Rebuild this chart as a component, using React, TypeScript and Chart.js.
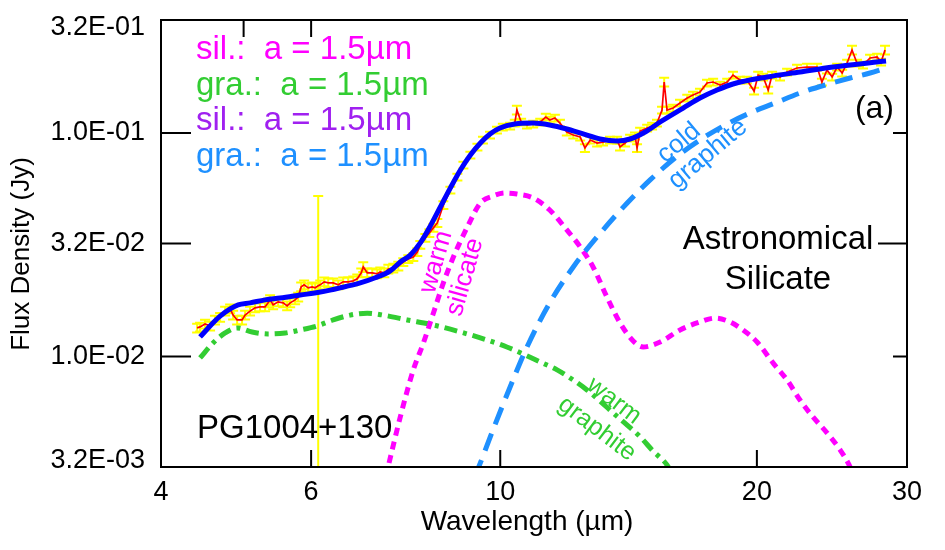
import { useEffect, useRef } from 'react';
import { Chart, registerables } from 'chart.js';

Chart.register(...registerables);

const FONT = '"Liberation Sans", Arial, Helvetica, sans-serif';

// Axis ranges and ticks
const xMin = 4;
const xMax = 30;
const yMin = 0.0032;
const yMax = 0.32;
const xTickValues = [4, 6, 10, 20, 30];
const xTickLabels = ['4', '6', '10', '20', '30'];
const yTickValues = [0.0032, 0.01, 0.032, 0.1, 0.32];
const yTickLabels = ['3.2E-03', '1.0E-02', '3.2E-02', '1.0E-01', '3.2E-01'];
const xTopMarks = [5, 6, 10, 20];
const xBottomMarks = [6, 10, 20];

// Observed spectrum (μm, Jy) with relative errors
const obsWavelength = [
  4.41, 4.445, 4.505, 4.567, 4.628, 4.692, 4.756, 4.821, 4.86, 4.913,
  4.979, 5.02, 5.088, 5.157, 5.227, 5.299, 5.342, 5.371, 5.415, 5.489,
  5.564, 5.624, 5.67, 5.746, 5.794, 5.841, 5.888, 5.953, 6.017, 6.066,
  6.116, 6.149, 6.216, 6.284, 6.369, 6.456, 6.543, 6.632, 6.723, 6.796,
  6.87, 6.907, 6.982, 7.077, 7.173, 7.232, 7.311, 7.391, 7.491, 7.593,
  7.696, 7.801, 7.907, 7.993, 8.058, 8.168, 8.257, 8.347, 8.437, 8.576,
  8.74, 8.907, 9.053, 9.225, 9.402, 9.544, 9.727, 9.912, 10.07, 10.27,
  10.4, 10.46, 10.58, 10.75, 10.93, 11.14, 11.31, 11.43, 11.59, 11.75,
  11.97, 12.18, 12.41, 12.57, 12.75, 12.99, 13.2, 13.45, 13.71, 13.82,
  14.01, 14.2, 14.39, 14.47, 14.59, 14.87, 15.07, 15.27, 15.48, 15.57,
  15.69, 15.95, 16.25, 16.57, 16.83, 17.15, 17.48, 17.77, 18.11, 18.46,
  18.75, 19.11, 19.47, 19.85, 20.07, 20.34, 20.62, 20.84, 21.29, 21.7,
  22.29, 22.9, 23.53, 23.84, 24.17, 24.51, 24.84, 25.18, 25.52, 25.86,
  26.21, 26.64, 27.15, 27.67, 27.97, 28.27,
];
const obsFlux = [
  0.01341, 0.01355, 0.01397, 0.01369, 0.01456, 0.01498, 0.01594, 0.01632, 0.0153, 0.01456,
  0.01456, 0.0153, 0.01594, 0.01649, 0.01666, 0.01666, 0.01736, 0.0179, 0.01701, 0.01754,
  0.01736, 0.01683, 0.01736, 0.0179, 0.01843, 0.02048, 0.0209, 0.02027, 0.02048, 0.02027,
  0.02069, 0.0209, 0.02155, 0.02133, 0.02133, 0.0209, 0.02155, 0.02155, 0.02178, 0.02225,
  0.02366, 0.02513, 0.02366, 0.02366, 0.02342, 0.0239, 0.02366, 0.02462, 0.02487, 0.02539,
  0.02645, 0.02726, 0.02783, 0.02929, 0.03154, 0.0339, 0.03568, 0.03758, 0.03956, 0.0476,
  0.0555, 0.06347, 0.07182, 0.07961, 0.08646, 0.0929, 0.09785, 0.103, 0.1063, 0.1074,
  0.1107, 0.1266, 0.1119, 0.1085, 0.1096, 0.1119, 0.1178, 0.1142, 0.1166, 0.1107,
  0.1009, 0.0979, 0.0959, 0.0856, 0.0929, 0.0901, 0.091, 0.0929, 0.0929, 0.0865,
  0.0901, 0.0949, 0.0969, 0.0856, 0.1019, 0.1052, 0.1074, 0.1107, 0.1266, 0.1689,
  0.1266, 0.1292, 0.1361, 0.1432, 0.1477, 0.1523, 0.1672, 0.1689, 0.1638, 0.1689,
  0.1815, 0.1724, 0.1724, 0.1539, 0.1815, 0.1779, 0.1555, 0.1815, 0.1779, 0.1872,
  0.1951, 0.1971, 0.1971, 0.1689, 0.1911, 0.1779, 0.1971, 0.1853, 0.2054, 0.2348,
  0.2054, 0.2012, 0.2163, 0.2185, 0.2075, 0.2348,
];
const obsErrRel = [
  0.045, 0.045, 0.045, 0.045, 0.045, 0.045, 0.045, 0.045, 0.045, 0.045,
  0.045, 0.045, 0.045, 0.045, 0.045, 0.045, 0.045, 0.05, 0.045, 0.045,
  0.045, 0.045, 0.045, 0.045, 0.045, 0.045, 0.045, 0.045, 0.045, 0.045,
  1.52, 0.045, 0.045, 0.045, 0.045, 0.045, 0.045, 0.045, 0.045, 0.045,
  0.045, 0.05, 0.045, 0.045, 0.045, 0.045, 0.045, 0.045, 0.045, 0.045,
  0.04, 0.04, 0.04, 0.04, 0.04, 0.04, 0.04, 0.04, 0.04, 0.04,
  0.035, 0.035, 0.035, 0.035, 0.035, 0.035, 0.035, 0.035, 0.035, 0.035,
  0.035, 0.045, 0.035, 0.035, 0.035, 0.035, 0.035, 0.035, 0.035, 0.035,
  0.035, 0.035, 0.035, 0.04, 0.035, 0.035, 0.035, 0.035, 0.035, 0.035,
  0.035, 0.035, 0.035, 0.04, 0.035, 0.035, 0.035, 0.035, 0.035, 0.045,
  0.035, 0.035, 0.035, 0.035, 0.035, 0.035, 0.035, 0.035, 0.035, 0.035,
  0.035, 0.035, 0.035, 0.035, 0.035, 0.035, 0.035, 0.035, 0.035, 0.035,
  0.035, 0.035, 0.035, 0.035, 0.035, 0.035, 0.035, 0.035, 0.035, 0.045,
  0.035, 0.035, 0.035, 0.035, 0.035, 0.045,
];

// Total model
const modelWavelength = [
  4.445, 4.567, 4.692, 4.821, 4.926, 5.088, 5.299, 5.518, 5.825, 6.149,
  6.491, 6.851, 7.134, 7.43, 7.634, 7.843, 8.058, 8.28, 8.506, 8.74,
  8.98, 9.225, 9.478, 9.727, 9.993, 10.4, 10.93, 11.43, 11.97, 12.51,
  13.09, 13.71, 14.2, 14.79, 15.4, 16.39, 17.15, 17.96, 18.75, 20.56,
  22.47, 24.57, 28.35,
];
const modelFlux = [
  0.01222, 0.01369, 0.01514, 0.01632, 0.01701, 0.01736, 0.0179, 0.01824, 0.01881, 0.0194,
  0.02027, 0.02133, 0.02248, 0.02415, 0.02645, 0.0284, 0.0322, 0.03836, 0.04663, 0.05675,
  0.0682, 0.07961, 0.0901, 0.0989, 0.1052, 0.1096, 0.1107, 0.1085, 0.1041, 0.0989,
  0.0939, 0.092, 0.0939, 0.1009, 0.1119, 0.1292, 0.1432, 0.1555, 0.1655, 0.1779,
  0.1872, 0.1971, 0.2096,
];

// Warm silicate component
const warmSilWavelength = [
  7.34, 7.391, 7.634, 7.907, 8.125, 8.347, 8.576, 8.811, 9.151, 9.478,
  9.806, 10.13, 10.46, 10.93, 11.43, 11.97, 12.41, 12.85, 13.34, 13.82,
  14.32, 14.71, 15.4, 16.25, 17.15, 17.86, 18.6, 19.26, 20.01, 20.89,
  21.7, 22.47, 23.27, 24.17, 25.05, 25.73, 26.0,
];
const warmSilFlux = [
  0.0029, 0.003235, 0.00536, 0.0087, 0.01148, 0.01561, 0.02133, 0.02783, 0.03797, 0.04858,
  0.05219, 0.05382, 0.05327, 0.05113, 0.0452, 0.0368, 0.0309, 0.02513, 0.01843, 0.01412,
  0.01172, 0.01102, 0.0116, 0.01313, 0.01426, 0.01483, 0.01426, 0.01313, 0.0116, 0.00935,
  0.00784, 0.00638, 0.00536, 0.00455, 0.00381, 0.0032, 0.0029,
];

// Warm graphite component
const warmGraWavelength = [
  4.445, 4.604, 4.756, 4.913, 5.116, 5.342, 5.594, 5.825, 6.099, 6.369,
  6.668, 6.982, 7.291, 7.78, 8.347, 8.98, 9.648, 10.18, 10.64, 11.14,
  11.66, 12.18, 12.64, 13.09, 13.56, 14.09, 14.59, 15.11, 15.69, 15.9,
];
const warmGraFlux = [
  0.00984, 0.01148, 0.01273, 0.01341, 0.01286, 0.0126, 0.01273, 0.01313, 0.01369, 0.01456,
  0.0153, 0.01561, 0.0153, 0.01456, 0.01383, 0.01286, 0.01184, 0.01102, 0.01025, 0.00944,
  0.0087, 0.00784, 0.00708, 0.00632, 0.00559, 0.00493, 0.00437, 0.00377, 0.00327, 0.003,
];

// Cold graphite component
const coldGraWavelength = [
  9.33, 9.428, 9.806, 10.27, 10.75, 11.43, 12.18, 12.99, 14.09, 14.99,
  16.03, 17.15, 18.36, 19.63, 21.01, 22.47, 24.04, 25.73, 27.15, 28.35,
];
const coldGraFlux = [
  0.0029, 0.00318, 0.00469, 0.0073, 0.01102, 0.01736, 0.02513, 0.03425, 0.04858, 0.0616,
  0.0772, 0.0929, 0.1085, 0.1228, 0.1361, 0.1508, 0.1638, 0.176, 0.1853, 0.1951,
];

const legendLines = [
  { text: 'sil.:  a = 1.5\u00b5m', color: '#ff00ff' },
  { text: 'gra.:  a = 1.5\u00b5m', color: '#32cd32' },
  { text: 'sil.:  a = 1.5\u00b5m', color: '#a020f0' },
  { text: 'gra.:  a = 1.5\u00b5m', color: '#1e90ff' },
];

const toPoints = (xs: number[], ys: number[]) => xs.map((x, i) => ({ x, y: ys[i] }));

function rotText(ctx: CanvasRenderingContext2D, text: string, x: number, y: number, deg: number, color: string, size: number) {
  ctx.save();
  ctx.translate(x, y);
  ctx.rotate((deg * Math.PI) / 180);
  ctx.fillStyle = color;
  ctx.font = `${size}px ${FONT}`;
  ctx.textAlign = 'center';
  ctx.textBaseline = 'middle';
  ctx.fillText(text, 0, 0);
  ctx.restore();
}

const decorPlugin = {
  id: 'decor',
  beforeDatasetsDraw(chart: any) {
    const ctx: CanvasRenderingContext2D = chart.ctx;
    const a = chart.chartArea;
    const xs = chart.scales.x;
    const ys = chart.scales.y;
    ctx.save();
    ctx.beginPath();
    ctx.rect(a.left, a.top, a.right - a.left, a.bottom - a.top);
    ctx.clip();
    ctx.strokeStyle = '#ffff00';
    ctx.lineWidth = 2;
    for (let i = 0; i < obsWavelength.length; i++) {
      const x = xs.getPixelForValue(obsWavelength[i]);
      const f = obsFlux[i];
      const e = obsErrRel[i] * f;
      const yTop = ys.getPixelForValue(f + e);
      const lo = f - e;
      const yBot = lo > 0 ? ys.getPixelForValue(lo) : a.bottom + 20;
      ctx.beginPath();
      ctx.moveTo(x, yTop);
      ctx.lineTo(x, yBot);
      ctx.moveTo(x - 5, yTop);
      ctx.lineTo(x + 5, yTop);
      if (lo > 0) {
        ctx.moveTo(x - 5, yBot);
        ctx.lineTo(x + 5, yBot);
      }
      ctx.stroke();
    }
    ctx.restore();
  },
  afterDatasetsDraw(chart: any) {
    const ctx: CanvasRenderingContext2D = chart.ctx;
    ctx.save();
    // legend text
    ctx.font = `33px ${FONT}`;
    ctx.textAlign = 'left';
    ctx.textBaseline = 'alphabetic';
    legendLines.forEach((l, i) => {
      ctx.fillStyle = l.color;
      ctx.fillText(l.text, 196, 59 + i * 35.5);
    });
    // labels
    ctx.fillStyle = '#000';
    ctx.font = `32px ${FONT}`;
    ctx.textAlign = 'right';
    ctx.fillText('(a)', 894, 118);
    ctx.font = `33px ${FONT}`;
    ctx.textAlign = 'center';
    ctx.fillText('Astronomical', 778, 249);
    ctx.fillText('Silicate', 778, 289);
    ctx.textAlign = 'left';
    ctx.fillText('PG1004+130', 197, 438);
    ctx.restore();
    rotText(ctx, 'warm', 436, 262, -74, '#ff00ff', 26);
    rotText(ctx, 'silicate', 465, 277, -74, '#ff00ff', 26);
    rotText(ctx, 'cold', 679, 143, -40, '#1e90ff', 26);
    rotText(ctx, 'graphite', 708, 154, -40, '#1e90ff', 26);
    rotText(ctx, 'warm', 614, 401, 37, '#32cd32', 25);
    rotText(ctx, 'graphite', 597, 429, 37, '#32cd32', 25);
  },
  afterDraw(chart: any) {
    const ctx: CanvasRenderingContext2D = chart.ctx;
    const a = chart.chartArea;
    const xs = chart.scales.x;
    const ys = chart.scales.y;
    ctx.save();
    ctx.strokeStyle = '#000';
    ctx.lineWidth = 2;
    ctx.strokeRect(a.left, a.top, a.right - a.left, a.bottom - a.top);
    ctx.beginPath();
    // y ticks: left long, right varied
    const leftLen = [0, 30, 30, 30, 0];
    const rightLen = [0, 14, 29, 14, 0];
    yTickValues.forEach((v, i) => {
      const y = ys.getPixelForValue(v);
      if (leftLen[i]) { ctx.moveTo(a.left, y); ctx.lineTo(a.left + leftLen[i], y); }
      if (rightLen[i]) { ctx.moveTo(a.right, y); ctx.lineTo(a.right - rightLen[i], y); }
    });
    xTopMarks.forEach((v) => {
      const x = xs.getPixelForValue(v);
      ctx.moveTo(x, a.top); ctx.lineTo(x, a.top + 17);
    });
    xBottomMarks.forEach((v) => {
      const x = xs.getPixelForValue(v);
      ctx.moveTo(x, a.bottom); ctx.lineTo(x, a.bottom - 17);
    });
    ctx.stroke();
    // tick labels
    ctx.fillStyle = '#000';
    ctx.font = `27px ${FONT}`;
    ctx.textAlign = 'right';
    ctx.textBaseline = 'middle';
    yTickValues.forEach((v, i) => {
      let y = ys.getPixelForValue(v);
      y = Math.min(Math.max(y, a.top + 8), a.bottom - 6);
      ctx.fillText(yTickLabels[i], a.left - 16, y);
    });
    ctx.textAlign = 'center';
    xTickValues.forEach((v, i) => {
      const x = xs.getPixelForValue(v);
      ctx.fillText(xTickLabels[i], x, a.bottom + 26);
    });
    ctx.font = `28px ${FONT}`;
    ctx.fillText('Wavelength (\u00b5m)', 527, a.bottom + 55);
    ctx.restore();
    rotText(ctx, 'Flux Density (Jy)', 22, 254, -90, '#000', 26);
  },
};

export default function App() {
  const ref = useRef<HTMLCanvasElement>(null);
  useEffect(() => {
    const canvas = ref.current;
    if (!canvas) return;
    const chart = new Chart(canvas, {
      type: 'line',
      data: {
        datasets: [
          {
            label: 'model',
            data: toPoints(modelWavelength, modelFlux),
            borderColor: '#0000ff',
            borderWidth: 5,
            cubicInterpolationMode: 'monotone',
            order: 0,
          },
          {
            label: 'observed',
            data: toPoints(obsWavelength, obsFlux),
            borderColor: '#ff0000',
            borderWidth: 1.7,
            tension: 0,
            order: 1,
          },
          {
            label: 'warm silicate',
            data: toPoints(warmSilWavelength, warmSilFlux),
            borderColor: '#ff00ff',
            borderWidth: 5,
            borderDash: [8, 6],
            cubicInterpolationMode: 'monotone',
            order: 3,
          },
          {
            label: 'warm graphite',
            data: toPoints(warmGraWavelength, warmGraFlux),
            borderColor: '#32cd32',
            borderWidth: 5,
            borderDash: [13, 6, 4, 6],
            cubicInterpolationMode: 'monotone',
            order: 4,
          },
          {
            label: 'cold graphite',
            data: toPoints(coldGraWavelength, coldGraFlux),
            borderColor: '#1e90ff',
            borderWidth: 5,
            borderDash: [18, 10],
            cubicInterpolationMode: 'monotone',
            order: 2,
          },
        ],
      },
      options: {
        responsive: false,
        animation: false,
        events: [],
        layout: { padding: { left: 161, top: 20, right: 38, bottom: 83 } },
        elements: { point: { radius: 0 }, line: { fill: false } },
        plugins: { legend: { display: false }, tooltip: { enabled: false } },
        scales: {
          x: { type: 'logarithmic', min: xMin, max: xMax, display: false },
          y: { type: 'logarithmic', min: yMin, max: yMax, display: false },
        },
      },
      plugins: [decorPlugin],
    } as any);
    return () => chart.destroy();
  }, []);
  return (
    <div style={{ position: 'absolute', left: 0, top: 0, width: 945, height: 550, background: '#fff' }}>
      <canvas ref={ref} width={945} height={550} style={{ display: 'block', width: 945, height: 550 }} />
    </div>
  );
}
